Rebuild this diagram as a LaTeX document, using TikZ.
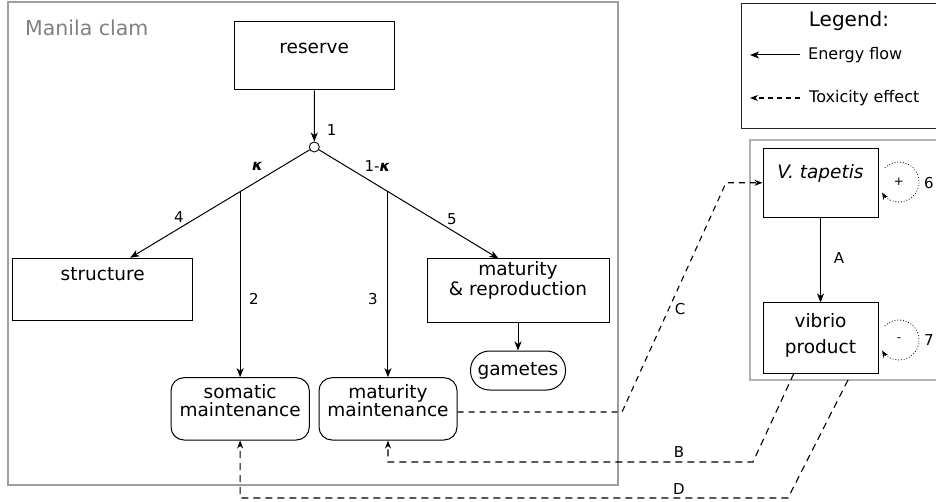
\documentclass[tikz,border=0pt]{standalone}
\usepackage{fontspec}
\setmainfont{DejaVu Sans}[ItalicFont={DejaVu Sans Oblique},BoldFont={DejaVu Sans Bold},BoldItalicFont={DejaVu Sans Bold Oblique}]
\usetikzlibrary{arrows.meta,calc}

\tikzset{
  box/.style={draw, line width=1pt, inner sep=0pt, align=center},
  roundbox/.style={box, rounded corners=13pt},
  flow/.style={line width=1pt, -{Stealth[length=9pt,width=7pt,inset=2.5pt]}},
  toxic/.style={line width=1.1pt, dash pattern=on 7pt off 5pt, -{Stealth[length=8pt,width=6pt,inset=2.5pt]}},
  selfloop/.style={line width=0.8pt, dotted, -{Stealth[length=7pt,width=5.5pt,inset=2pt]}},
  frame/.style={draw=black!38, line width=1.2pt},
  lbl/.style={font=\fontsize{15}{17}\selectfont},
  sign/.style={font=\fontsize{12}{14}\selectfont}
}

\begin{document}
\begin{tikzpicture}[x=1pt,y=-1pt,font=\fontsize{18.5}{20}\selectfont]
\useasboundingbox (0,0) rectangle (936,502);

%Frames
\draw[frame] (8,2) rectangle (618,485);
\draw[frame, draw=black!30] (750,140) rectangle (940,380);
\draw[line width=1pt, draw=black!85] (741.7,3.3) rectangle (940,128.3);
\node[anchor=base west, inner sep=0pt, text=black!50, font=\fontsize{20.5}{22}\selectfont] (clamtitle) at (25,35.7) {Manila clam};

%Clam compartments
\node[box, minimum width=159.5pt, text height=31.3pt, text depth=36.7pt] (reserve) at (314.25,56) {reserve};
\node[circle, draw, fill=white, line width=0.9pt, minimum size=10pt, inner sep=0pt] (split) at (314.3,147) {};
\node[box, minimum width=180pt, text height=21.7pt, text depth=40.7pt] (structure) at (102.7,289.5) {structure};
\node[box, minimum width=182pt, text height=36pt, text depth=27pt] (matrep) at (518,290.5) {maturity\\\& reproduction};
\node[roundbox, minimum width=138.3pt, text height=38.3pt, text depth=24pt, font=\fontsize{18.5}{18}\selectfont] (somatic) at (240.15,408.85) {somatic\\maintenance};
\node[roundbox, minimum width=138pt, text height=38.3pt, text depth=24pt, font=\fontsize{18.5}{18}\selectfont] (matmaint) at (388,408.85) {maturity\\maintenance};
\node[roundbox, rounded corners=19pt, minimum width=95pt, minimum height=39pt] (gametes) at (518,370.5) {gametes};

%Vibrio compartments
\node[box, minimum width=115pt, text height=30pt, text depth=39pt] (vt) at (820.5,182.8) {\itshape V. tapetis};
\node[box, minimum width=115pt, text height=50pt, text depth=20pt, font=\fontsize{18.5}{26}\selectfont] (vp) at (820.5,338) {vibrio\\product};

%Energy flows
\coordinate (tipL) at ($(structure.north west)!0.652!(structure.north east)$);
\coordinate (tipR) at ($(matrep.north west)!0.393!(matrep.north east)$);
\coordinate (brL) at ($(split)!0.403!(tipL)$);
\coordinate (brR) at ($(split)!0.4!(tipR)$);
\draw[flow] (reserve.south) -- (split.north);
\draw[flow] (split) -- (tipL);
\draw[flow] (split) -- (tipR);
\draw[flow] (brL) -- (brL |- somatic.north);
\draw[flow] (brR) -- (brR |- matmaint.north);
\draw[flow] (matrep.south) -- (gametes.north);
\draw[flow] (vt) -- (vp);

% Text Node
\node[lbl] (n1) at (331.7,130) {1};
\node[lbl] (n2) at (254,299) {2};
\node[lbl] (n3) at (373,299) {3};
\node[lbl] (n4) at (179,217) {4};
\node[lbl] (n5) at (452,219) {5};
\node[lbl] (kap) at (257.5,166) {\bfseries\itshape κ};
\node[lbl] (onekap) at (377.5,166) {1-{\bfseries\itshape κ}};
\node[lbl] (na) at (839,258) {A};

%Toxicity effects
\coordinate (cbend) at (622,412);
\coordinate (ctop) at (726,182.8);
\draw[toxic, dash pattern=on 6pt off 5pt] (matmaint.east |- cbend) -- (cbend) -- (ctop) -- (vt.west);
\coordinate (btop) at ($(vp.south west)!0.27!(vp.south east)$);
\coordinate (bbend) at (753,462);
\draw[toxic] (btop) -- (bbend) -- (bbend -| matmaint.south) -- (matmaint.south);
\coordinate (dtop) at (848,380);
\coordinate (dbend) at (788,498);
\draw[toxic] (dtop) -- (dbend) -- (dbend -| somatic.south) -- (somatic.south);
\node[lbl] (nc) at (680,309) {C};
\node[lbl] (nb) at (679,452) {B};
\node[lbl] (nd) at (679,489) {D};

%Self loops
\coordinate (c6) at (899,182);
\coordinate (c7) at (899,340);
\draw[selfloop] (c6) ++(225:20) arc[start angle=225, end angle=508, radius=20];
\draw[selfloop] (c7) ++(225:20) arc[start angle=225, end angle=508, radius=20];
\node[sign] (plus) at (c6) {+};
\node[sign] (minus) at (c7) {-};
\node[lbl] (n6) at (929,183) {6};
\node[lbl] (n7) at (929,340) {7};

%Legend
\node[anchor=base, font=\fontsize{20}{22}\selectfont] (legendtitle) at (849,26.7) {Legend:};
\node[anchor=west, inner sep=0pt, font=\fontsize{16}{18}\selectfont] (eflow) at (808,55) {Energy flow};
\node[anchor=west, inner sep=0pt, font=\fontsize{16}{18}\selectfont] (tflow) at (809,98) {Toxicity effect};
\coordinate (efend) at (750,55);
\coordinate (tfend) at (750,98);
\draw[flow] ([xshift=-8pt]eflow.west) -- (efend);
\draw[toxic, dash pattern=on 5pt off 4pt] ([xshift=-9pt]tflow.west) -- (tfend);
\end{tikzpicture}
\end{document}
